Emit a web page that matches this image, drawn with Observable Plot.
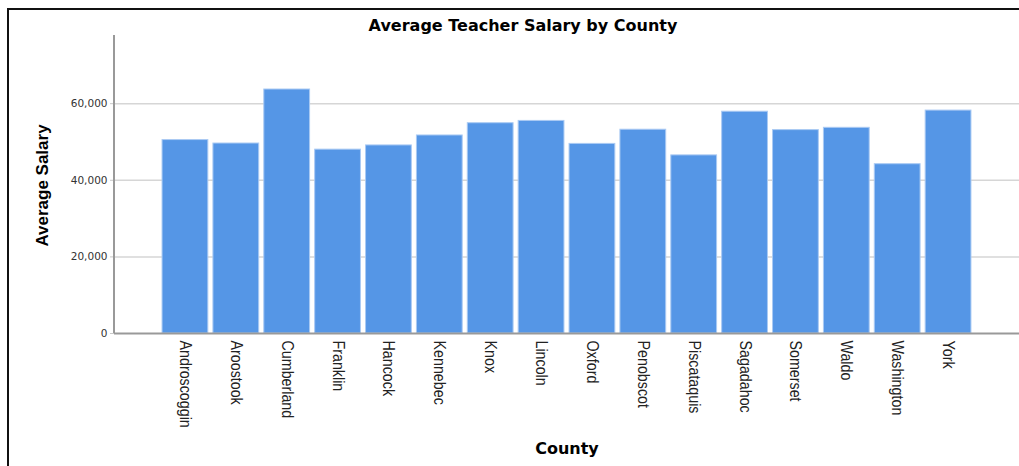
<!DOCTYPE html>
<html>
<head>
<meta charset="utf-8">
<script src="https://cdn.jsdelivr.net/npm/d3@7"></script>
<script src="https://cdn.jsdelivr.net/npm/@observablehq/plot@0.6"></script>
<style>
  html, body { margin: 0; padding: 0; background: #fff; overflow: hidden; }
  #wrap { position: relative; width: 1019px; height: 466px; }
  #border { position: absolute; left: 7px; top: 8px; width: 1100px; height: 500px;
            border-top: 2px solid #111; border-left: 2px solid #111; pointer-events: none; }
</style>
</head>
<body>
<div id="wrap"><div id="border"></div></div>
<script>
const counties = ["Androscoggin","Aroostook","Cumberland","Franklin","Hancock","Kennebec","Knox","Lincoln","Oxford","Penobscot","Piscataquis","Sagadahoc","Somerset","Waldo","Washington","York"];
const salaries = [50500,49600,63700,48000,49100,51700,54900,55500,49500,53200,46500,57900,53100,53700,44200,58200];
const yTicks = [0,20000,40000,60000];
const gridValues = [20000,40000,60000];
const yMax = 77800;
const chartTitle = "Average Teacher Salary by County";
const xTitle = "County";
const yTitle = "Average Salary";

const data = counties.map((c, i) => ({county: c, salary: salaries[i]}));

const chart = Plot.plot({
  width: 1019,
  height: 466,
  marginLeft: 114,
  marginRight: 0,
  marginTop: 35,
  marginBottom: 133,
  style: {background: "transparent", overflow: "visible"},
  x: {domain: counties, range: [159.5, 973.5], paddingInner: 0.1, paddingOuter: 0.05, round: false},
  y: {domain: [0, yMax]},
  marks: [
    Plot.ruleY(gridValues, {stroke: "#d6d6d6", strokeWidth: 1.5}),
    Plot.barY(data, {x: "county", y: "salary", fill: "#5596e6", stroke: "#aacaf3", strokeWidth: 1}),
    Plot.ruleY([0], {stroke: "#999", strokeWidth: 2}),
    Plot.axisY({ticks: yTicks, tickFormat: d3.format(","), tickSize: 4, tickPadding: 3,
      stroke: "#c8c8c8", fill: "#333", fontSize: 10.5, fontFamily: "DejaVu Sans", label: null}),
    Plot.axisX({tickRotate: 90, tickSize: 0, tickPadding: 7, fill: "#222",
      fontSize: 17, fontFamily: "Liberation Sans, Arial, sans-serif", label: null}),
    Plot.text([chartTitle], {frameAnchor: "top", dx: -44, dy: -10, lineAnchor: "middle",
      fontSize: 16, fontWeight: "bold", fontFamily: "DejaVu Sans", fill: "#000"}),
    Plot.text([xTitle], {frameAnchor: "bottom", dy: 115, lineAnchor: "middle",
      fontSize: 16, fontWeight: "bold", fontFamily: "DejaVu Sans", fill: "#000"}),
    Plot.text([yTitle], {frameAnchor: "left", dx: -72, dy: 1, rotate: -90, lineAnchor: "middle",
      textAnchor: "middle", ariaLabel: "y-title",
      fontSize: 17, fontWeight: "bold", fontFamily: "Liberation Sans, Arial, sans-serif", fill: "#000"})
  ]
});

// vertical axis line on the left edge of the frame, from the y scale's range
const yr = chart.scale("y").range;
d3.select(chart).append("line")
  .attr("x1", 114).attr("x2", 114)
  .attr("y1", yr[0]).attr("y2", yr[1])
  .attr("stroke", "#999").attr("stroke-width", 2);

// condense the rotated texts along their reading direction (narrow face look)
function condense(sel, k) {
  d3.select(chart).selectAll(sel).each(function() {
    const t = this.getAttribute("transform") || "";
    this.setAttribute("transform", t + ` scale(${k},1)`);
  });
}
condense('g[aria-label="x-axis tick label"] text', 0.84);
condense('g[aria-label="y-title"] text', 0.86);

chart.style.position = "absolute";
chart.style.left = "0px";
chart.style.top = "0px";
document.getElementById("wrap").prepend(chart);
</script>
</body>
</html>
